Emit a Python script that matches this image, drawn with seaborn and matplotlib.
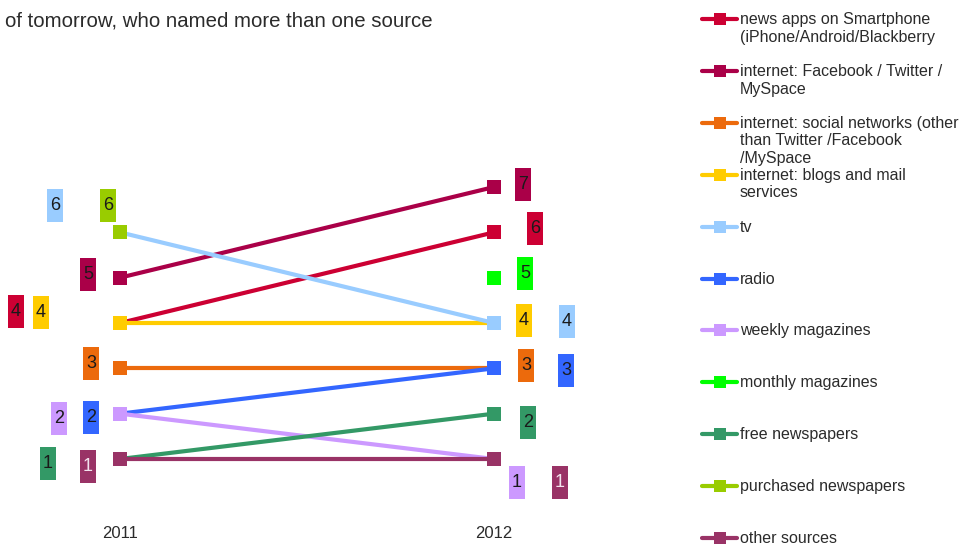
import matplotlib
matplotlib.use("Agg")
import matplotlib.pyplot as plt
from matplotlib.patches import Rectangle
from matplotlib.lines import Line2D
import numpy as np
import pandas as pd
import seaborn as sns

# ---- data -------------------------------------------------------------
title = "of tomorrow, who named more than one source"
years = [2011, 2012]
sources = [
    "news apps on Smartphone\n(iPhone/Android/Blackberry",
    "internet: Facebook / Twitter /\nMySpace",
    "internet: social networks (other\nthan Twitter /Facebook\n/MySpace",
    "internet: blogs and mail\nservices",
    "tv",
    "radio",
    "weekly magazines",
    "monthly magazines",
    "free newspapers",
    "purchased newspapers",
    "other sources",
]
rank_2011 = [4, 5, 3, 4, 6, 2, 2, None, 1, 6, 1]
rank_2012 = [6, 7, 3, 4, 4, 3, 1, 5, 2, None, 1]

colors = ["#CC0033", "#AA0048", "#EC6A0C", "#FFCC00", "#99CCFF", "#3366FF",
          "#CC99FF", "#00FF00", "#339966", "#99CC00", "#993366"]
label_text_colors = ["#1a1a1a"] * 10 + ["#f2e4ee"]

# rank badge offsets from each point, in pixels (x right, y down)
badge_dx_2011 = [-104, -32, -29, -79, -65, -29, -61, 0, -72, -12, -32]
badge_dy_2011 = [-11.5, -3, -5, -10.5, -27, 4, 5, 0, 4, -27, 7.5]
badge_dx_2012 = [41, 29, 32, 30, 73, 72, 23, 31, 34, 0, 66]
badge_dy_2012 = [-4, -2.5, -3, -2.5, -1.5, 2, 23.5, -4, 9, 0, 23.5]

# ---- long table ---------------------------------------------------------
rows = []
for s, r1, r2 in zip(sources, rank_2011, rank_2012):
    for yr, r in zip(years, (r1, r2)):
        if r is not None:
            rows.append({"source": s, "year": yr, "rank": r})
df = pd.DataFrame(rows)

# ---- figure -------------------------------------------------------------
sns.set_style("white")
plt.rcParams["font.family"] = ["Liberation Sans", "DejaVu Sans"]
text_color = "#2b2b2b"

W, H = 964, 547
fig = plt.figure(figsize=(W / 100, H / 100), dpi=100)
ax_l, ax_b, ax_w, ax_h = 0, 27, 690, 470
ax = fig.add_axes([ax_l / W, ax_b / H, ax_w / W, ax_h / H])

px_per_year = 374.0
px_per_rank = 45.33
x0_px = 120.0          # pixel column of the first year
r1_px_from_bottom = (H - 459) - ax_b
xlim = (years[0] - x0_px / px_per_year, years[0] + (ax_w - x0_px) / px_per_year)
ylim = (1 - r1_px_from_bottom / px_per_rank, 1 + (ax_h - r1_px_from_bottom) / px_per_rank)

sns.lineplot(data=df, x="year", y="rank", hue="source", hue_order=sources,
             palette=colors, marker="s", markersize=10, markeredgewidth=0,
             linewidth=3, legend=False, sort=False, ax=ax)

ax.set_xlim(*xlim)
ax.set_ylim(*ylim)

# rank badges
bw, bh = 16, 33
for i in range(len(sources)):
    for yr, ranks, dxs, dys in ((years[0], rank_2011, badge_dx_2011, badge_dy_2011),
                                (years[1], rank_2012, badge_dx_2012, badge_dy_2012)):
        r = ranks[i]
        if r is None:
            continue
        cx = yr + dxs[i] / px_per_year
        cy = r - dys[i] / px_per_rank
        ax.add_patch(Rectangle((cx - bw / 2 / px_per_year, cy - bh / 2 / px_per_rank),
                               bw / px_per_year, bh / px_per_rank,
                               facecolor=colors[i], edgecolor="none", zorder=5))
        ax.text(cx, cy, str(r), ha="center", va="center", fontsize=13,
                color=label_text_colors[i], zorder=6)

ax.set_xticks(years)
ax.set_xticklabels([str(y) for y in years], fontsize=12, color=text_color)
ax.tick_params(axis="x", length=0, pad=4)
ax.set_yticks([])
ax.set_xlabel("")
ax.set_ylabel("")
for sp in ax.spines.values():
    sp.set_visible(False)

# title
fig.text(5 / W, 1 - 21 / H, title, ha="left", va="center", fontsize=14.7,
         color=text_color)

# legend, drawn in figure pixel space
def fx(x):
    return x / W

def fy(y):
    return 1 - y / H

legend_y0, legend_step = 19, 51.9
for i, (s, c) in enumerate(zip(sources, colors)):
    y = legend_y0 + i * legend_step
    fig.add_artist(Line2D([fx(702), fx(737)], [fy(y), fy(y)], color=c, lw=3,
                          solid_capstyle="round"))
    fig.add_artist(Line2D([fx(720)], [fy(y)], color=c, marker="s",
                          markersize=8, markeredgewidth=0, linestyle="none"))
    fig.text(fx(740), fy(y - 7), s, ha="left", va="top", fontsize=11.5,
             color=text_color, linespacing=1.22)

fig.savefig("out.png", dpi=100)
